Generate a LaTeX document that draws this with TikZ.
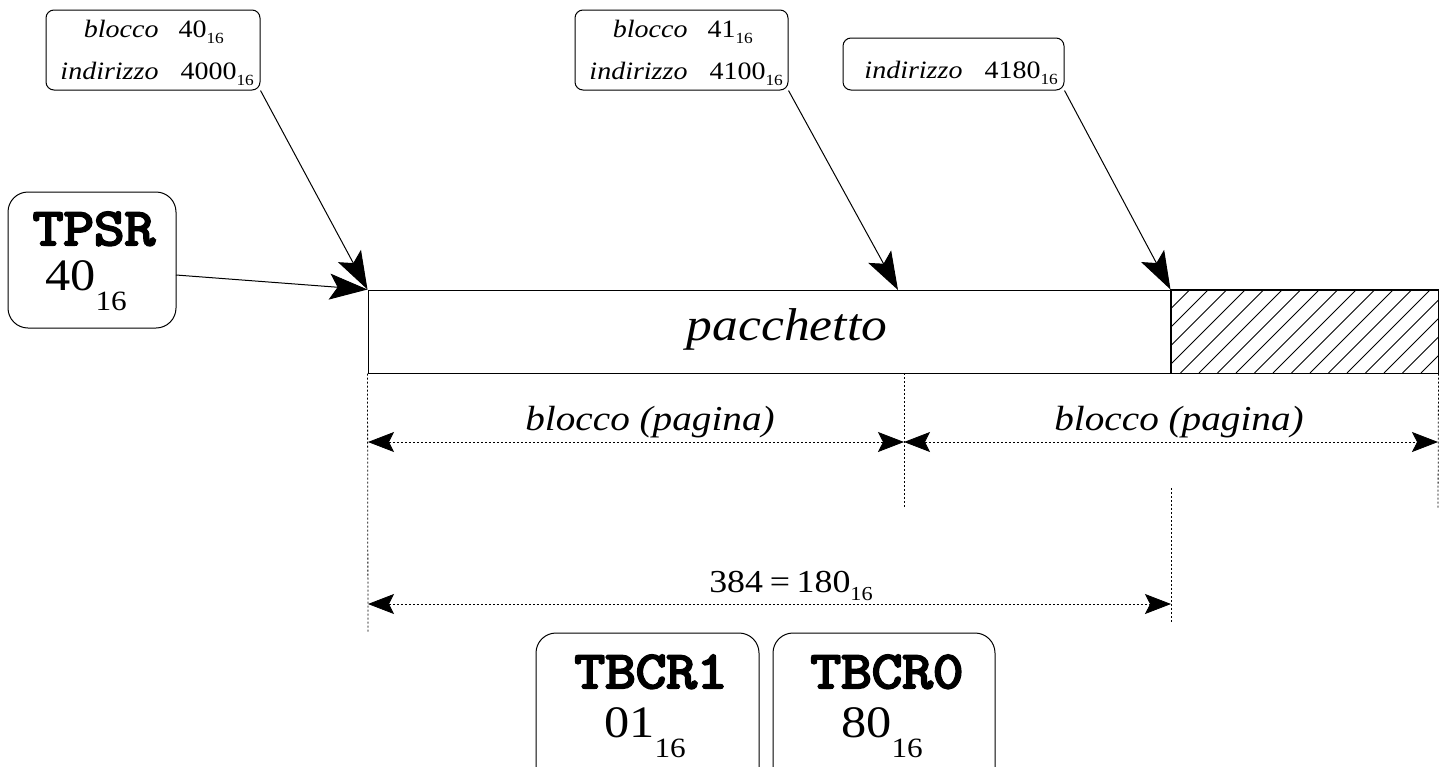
\documentclass[tikz,border=0pt]{standalone}
\usepackage{fontspec}
\setmainfont{Liberation Serif}
\setmonofont{Latin Modern Mono}[FakeBold=4]
\usetikzlibrary{arrows.meta}
\newcommand\sx[1]{\scalebox{1.12}[1]{#1}}
\newcommand\hsub[2][0.25em]{\raisebox{-#1}{\scalebox{0.62}{#2}}}
\newcommand\fs[1]{\fontsize{#1}{#1}\selectfont}
\begin{document}
\begin{tikzpicture}[x=1pt,y=-1pt,line width=1pt,
  lblbox/.style={draw,rounded corners=8pt,inner sep=0pt},
  regbox/.style={draw,rounded corners=20pt,inner sep=0pt},
  small/.style={inner sep=0pt,font=\fs{25}},
  mid/.style={inner sep=0pt,font=\fs{35}},
  dimtxt/.style={inner sep=0pt,font=\fs{32}},
  bigtxt/.style={inner sep=0pt,font=\fs{46}},
  regname/.style={inner sep=0pt,font=\fs{53}\ttfamily\bfseries},
  regval/.style={inner sep=0pt,font=\fs{45}},
  bigarrow/.style={-{Stealth[length=38pt,width=26pt,inset=8pt]}},
  dim/.style={line width=0.8pt,dash pattern=on 2pt off 2pt,
    {Stealth[length=26pt,width=20pt,inset=5pt]}-{Stealth[length=26pt,width=20pt,inset=5pt]}},
  guide/.style={line width=0.8pt,dash pattern=on 2pt off 2pt}
]
\clip (0,0) rectangle (1446,766);

% packet and hatched remainder
\node[draw,minimum width=803pt,minimum height=83pt,inner sep=0pt] (pk) at (769.5,331.5) {};
\node[bigtxt,anchor=base] (pkt) at (787,340) {\sx{\itshape pacchetto}};
\node[draw,minimum width=267pt,minimum height=83pt,inner sep=0pt] (hz) at (1304.5,331.5) {};
\begin{scope}
  \clip (1171,290) rectangle (1438,373);
  \foreach \k in {0,...,20} \draw[line width=0.9pt] (1171-83+\k*18.5,373) -- ++(100,-100);
\end{scope}
\draw (hz.south west) rectangle (hz.north east);

% label boxes
\node[lblbox,minimum width=214pt,minimum height=80pt] (b1) at (153,50) {};
\node[small,anchor=base east] (b1a) at (159,37) {\sx{\itshape blocco}};
\node[small,anchor=base west] (b1b) at (178,37) {\sx{40\hsub{16}}};
\node[small,anchor=base east] (b1c) at (159,79) {\sx{\itshape indirizzo}};
\node[small,anchor=base west] (b1d) at (180,79) {\sx{4000\hsub{16}}};

\node[lblbox,minimum width=213pt,minimum height=80pt] (b2) at (681.5,50) {};
\node[small,anchor=base east] (b2a) at (688,37) {\sx{\itshape blocco}};
\node[small,anchor=base west] (b2b) at (707,37) {\sx{41\hsub{16}}};
\node[small,anchor=base east] (b2c) at (688,79) {\sx{\itshape indirizzo}};
\node[small,anchor=base west] (b2d) at (709,79) {\sx{4100\hsub{16}}};

\node[lblbox,minimum width=221pt,minimum height=52pt] (b3) at (953.5,64) {};
\node[small,anchor=base east] (b3c) at (963,78) {\sx{\itshape indirizzo}};
\node[small,anchor=base west] (b3d) at (984,78) {\sx{4180\hsub{16}}};

% registers
\node[regbox,minimum width=168pt,minimum height=136pt] (tpsr) at (92,260) {};
\node[regname,anchor=base] (tpsra) at (94,245) {\sx{TPSR}};
\node[regval,anchor=base] (tpsrb) at (86,290) {\sx{40\hsub[0.45em]{16}}};

\node[regbox,minimum width=223pt,minimum height=160pt] (t1) at (647.5,713) {};
\node[regname,anchor=base] (t1a) at (651,688) {\sx{TBCR1}};
\node[regval,anchor=base] (t1b) at (645,737) {\sx{01\hsub[0.45em]{16}}};

\node[regbox,minimum width=222pt,minimum height=160pt] (t0) at (884,713) {};
\node[regname,anchor=base] (t0a) at (887,688) {\sx{TBCR0}};
\node[regval,anchor=base] (t0b) at (882,737) {\sx{80\hsub[0.45em]{16}}};

% guides
\coordinate (g1b) at (368,632);
\coordinate (g2t) at (904,373);
\coordinate (g2b) at (904,508);
\coordinate (g3b) at (1438,508);
\coordinate (g4t) at (1171,488);
\coordinate (g4b) at (1171,622);
\draw[guide] (pk.south west) -- (g1b);
\draw[guide] (g2t) -- (g2b);
\draw[guide] (hz.south east) -- (g3b);
\draw[guide] (g4t) -- (g4b);

% dimensions
\coordinate (d1a) at (368,442);
\coordinate (d1b) at (904,442);
\coordinate (d2b) at (1438,442);
\coordinate (d3a) at (368,604);
\coordinate (d3b) at (1171,604);
\draw[dim] (d1a) -- (d1b);
\draw[dim] (d1b) -- (d2b);
\draw[dim] (d3a) -- (d3b);
\node[mid,anchor=base] (l1) at (650,430) {\sx{\itshape blocco (pagina)}};
\node[mid,anchor=base] (l2) at (1179,430) {\sx{\itshape blocco (pagina)}};
\node[dimtxt,anchor=base] (l3) at (791,592) {\sx{384\hspace{6pt}=\hspace{6pt}180\hsub{16}}};

% pointer arrows
\coordinate (tpsrout) at (176,275);
\coordinate (a2) at (898,290);
\draw[bigarrow] (b1.south east) -- (pk.north west);
\draw[bigarrow] (tpsrout) -- (pk.north west);
\draw[bigarrow] (b2.south east) -- (a2);
\draw[bigarrow] (b3.south east) -- (hz.north west);
\end{tikzpicture}
\end{document}
